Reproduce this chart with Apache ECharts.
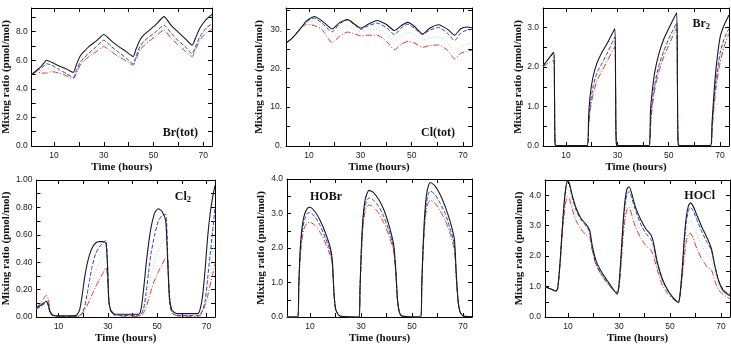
<!DOCTYPE html>
<html>
<head>
<meta charset="utf-8">
<script src="https://cdn.jsdelivr.net/npm/echarts@6/dist/echarts.min.js"></script>
<style>
  html, body { margin: 0; padding: 0; background: #fff; }
  #main { width: 731px; height: 346px; }
</style>
</head>
<body>
<div id="main"></div>
<script>
// ---- data ----
// four runs per panel: black solid, blue dashed, green dotted, red dash-dot
var xTicks = [10, 20, 30, 40, 50, 60, 70];
var xLabels = [10, 30, 50, 70];

// Br(tot)
var brTotTime  = [1, 3, 5, 7, 9, 12, 15, 17.7, 19, 20.5, 22, 24, 27, 30, 33, 36, 39, 41.8, 43, 44.5, 46, 48, 51, 54.2, 57, 60, 63, 65.5, 67, 68.5, 70, 71.5, 73.5];
var brTotBlack = [5.0, 5.3, 5.6, 6.0, 5.85, 5.6, 5.38, 5.15, 5.7, 6.3, 6.6, 6.95, 7.35, 7.8, 7.35, 6.95, 6.6, 6.25, 6.8, 7.4, 7.75, 8.05, 8.5, 9.05, 8.45, 7.95, 7.45, 7.05, 7.6, 8.2, 8.6, 8.9, 9.2];
var brTotBlue  = [5.0, 5.25, 5.45, 5.75, 5.65, 5.35, 5.05, 4.8, 5.3, 5.85, 6.15, 6.5, 6.95, 7.4, 6.95, 6.55, 6.15, 5.75, 6.3, 6.95, 7.3, 7.6, 8.0, 8.45, 7.9, 7.35, 6.9, 6.45, 7.0, 7.6, 8.0, 8.3, 8.55];
var brTotGreen = [5.0, 5.22, 5.25, 5.4, 5.4, 5.2, 4.98, 4.75, 5.2, 5.75, 6.05, 6.38, 6.78, 7.15, 6.78, 6.4, 6.05, 5.7, 6.2, 6.82, 7.15, 7.45, 7.85, 8.25, 7.7, 7.2, 6.75, 6.35, 6.9, 7.48, 7.85, 8.1, 8.35];
var brTotRed   = [5.0, 5.2, 5.1, 5.1, 5.2, 5.1, 4.9, 4.7, 5.1, 5.65, 5.95, 6.25, 6.6, 6.95, 6.6, 6.25, 5.95, 5.65, 6.1, 6.7, 7.0, 7.3, 7.7, 8.1, 7.55, 7.05, 6.6, 6.25, 6.8, 7.35, 7.7, 7.95, 8.15];

// Cl(tot)
var clTotTime  = [1, 3, 5, 7, 9, 12, 15, 19, 22, 25, 28, 30.2, 33, 36.5, 40, 43.3, 46, 48.5, 51, 54.3, 57, 60.5, 64, 66.7, 69, 71.5, 73.5];
var clTotBlack = [26.5, 27.5, 28.9, 30.5, 32.2, 33.3, 32.2, 30.1, 31.8, 32.5, 31.2, 30.3, 31.3, 32.3, 31.3, 29.7, 31.0, 31.8, 30.8, 28.8, 30.3, 31.2, 30.0, 28.5, 30.1, 30.6, 30.4];
var clTotBlue  = [26.5, 27.5, 28.9, 30.5, 32.0, 32.9, 31.6, 29.4, 31.5, 32.5, 31.0, 30.0, 30.9, 31.6, 30.5, 28.7, 30.4, 31.3, 30.3, 28.7, 29.8, 30.5, 29.0, 27.1, 29.0, 29.8, 30.0];
var clTotGreen = [26.5, 27.5, 28.9, 30.5, 31.7, 32.0, 30.8, 28.0, 30.0, 31.0, 30.0, 29.3, 29.8, 30.0, 28.8, 27.0, 28.5, 29.2, 28.6, 27.3, 27.8, 28.0, 26.6, 24.0, 25.6, 26.2, 26.4];
var clTotRed   = [26.5, 27.5, 28.9, 30.5, 31.3, 31.0, 30.0, 26.6, 28.3, 29.3, 28.8, 28.3, 28.5, 28.5, 27.0, 24.8, 26.2, 26.9, 26.5, 25.4, 25.8, 26.0, 24.6, 22.4, 23.8, 24.4, 24.6];

// Br2
var br2Time  = [1, 3, 5.2, 5.5, 5.8, 10, 18.2, 18.8, 19.5, 20.5, 22, 24, 26, 29, 29.3, 29.7, 35, 42.3, 42.9, 43.6, 44.5, 46, 48, 50, 53.1, 53.4, 53.8, 60, 66.3, 66.9, 67.6, 68.5, 70, 71.5, 73.5];
var br2Black = [2.02, 2.2, 2.38, 1.2, 0.02, 0.01, 0.01, 0.8, 1.35, 1.75, 2.1, 2.38, 2.6, 2.98, 1.5, 0.02, 0.01, 0.01, 0.9, 1.4, 1.85, 2.3, 2.7, 2.98, 3.38, 1.7, 0.02, 0.01, 0.01, 0.6, 1.3, 2.0, 2.75, 3.05, 3.32];
var br2Blue  = [2.05, 2.2, 2.36, 1.2, 0.02, 0.01, 0.01, 0.6, 1.1, 1.5, 1.85, 2.1, 2.35, 2.76, 1.4, 0.02, 0.01, 0.01, 0.6, 1.15, 1.55, 2.0, 2.4, 2.72, 3.12, 1.6, 0.02, 0.01, 0.01, 0.5, 1.1, 1.7, 2.35, 2.7, 2.98];
var br2Green = [2.02, 2.15, 2.27, 1.15, 0.02, 0.01, 0.01, 0.55, 1.02, 1.4, 1.75, 2.0, 2.25, 2.64, 1.35, 0.02, 0.01, 0.01, 0.55, 1.08, 1.48, 1.92, 2.32, 2.63, 3.06, 1.55, 0.02, 0.01, 0.01, 0.45, 1.02, 1.6, 2.22, 2.6, 2.92];
var br2Red   = [2.0, 2.1, 2.18, 1.1, 0.02, 0.01, 0.01, 0.5, 0.95, 1.3, 1.65, 1.9, 2.15, 2.52, 1.3, 0.02, 0.01, 0.01, 0.5, 1.0, 1.4, 1.85, 2.25, 2.55, 3.0, 1.5, 0.02, 0.01, 0.01, 0.4, 0.95, 1.5, 2.1, 2.5, 2.85];

// Cl2
var cl2Time  = [1, 3, 5.1, 5.8, 6.5, 7.5, 10, 17, 18.5, 19.5, 20.5, 21.5, 22.5, 23.5, 25, 26.5, 28, 29.2, 29.8, 30.4, 31.2, 33, 42.5, 43.5, 44.5, 45.5, 46.5, 47.5, 49, 50.5, 52, 53.5, 54.3, 55, 56, 58, 66.5, 67.5, 68.5, 69.5, 70.5, 71.5, 72.5, 73.5];
var cl2Black = [0.066, 0.09, 0.115, 0.09, 0.04, 0.015, 0.008, 0.01, 0.05, 0.15, 0.28, 0.38, 0.45, 0.5, 0.54, 0.55, 0.55, 0.54, 0.4, 0.12, 0.05, 0.02, 0.02, 0.06, 0.2, 0.38, 0.53, 0.65, 0.76, 0.79, 0.77, 0.7, 0.4, 0.15, 0.05, 0.025, 0.025, 0.06, 0.16, 0.35, 0.58, 0.75, 0.87, 0.96];
var cl2Blue  = [0.055, 0.08, 0.105, 0.08, 0.03, 0.01, 0.005, 0.005, 0.01, 0.03, 0.07, 0.16, 0.26, 0.36, 0.46, 0.51, 0.54, 0.56, 0.42, 0.12, 0.04, 0.015, 0.01, 0.02, 0.06, 0.17, 0.32, 0.46, 0.6, 0.7, 0.74, 0.75, 0.45, 0.12, 0.03, 0.01, 0.01, 0.02, 0.05, 0.12, 0.28, 0.45, 0.62, 0.8];
var cl2Green = [0.06, 0.095, 0.13, 0.1, 0.04, 0.012, 0.005, 0.005, 0.008, 0.025, 0.06, 0.11, 0.18, 0.25, 0.33, 0.39, 0.43, 0.46, 0.36, 0.12, 0.04, 0.012, 0.008, 0.015, 0.045, 0.11, 0.2, 0.3, 0.41, 0.49, 0.54, 0.58, 0.44, 0.13, 0.035, 0.01, 0.008, 0.015, 0.045, 0.1, 0.2, 0.32, 0.45, 0.58];
var cl2Red   = [0.066, 0.11, 0.16, 0.13, 0.05, 0.015, 0.005, 0.005, 0.005, 0.02, 0.05, 0.08, 0.12, 0.16, 0.22, 0.27, 0.32, 0.36, 0.3, 0.12, 0.04, 0.01, 0.005, 0.01, 0.03, 0.07, 0.13, 0.19, 0.27, 0.33, 0.38, 0.43, 0.42, 0.15, 0.04, 0.01, 0.005, 0.01, 0.04, 0.09, 0.15, 0.23, 0.31, 0.39];

// HOBr
var hobrTime  = [1, 5.2, 5.6, 6.0, 6.5, 7.2, 8, 9, 10, 12, 14, 16, 18, 18.8, 19.4, 20, 20.8, 22, 29.2, 29.6, 30.1, 30.7, 31.4, 32.2, 33.2, 35, 37, 39, 41, 42.8, 43.6, 44.3, 45, 46, 53.4, 53.8, 54.3, 54.9, 55.6, 56.4, 57.2, 59, 61, 63, 65, 66.6, 67.3, 68, 68.8, 70, 73.5];
var hobrBlack = [0, 0, 0.9, 1.7, 2.3, 2.75, 3.0, 3.15, 3.18, 3.05, 2.8, 2.45, 2.0, 1.6, 0.7, 0.25, 0.1, 0.02, 0, 0.8, 1.9, 2.8, 3.3, 3.55, 3.67, 3.6, 3.4, 3.1, 2.65, 2.1, 1.4, 0.5, 0.15, 0.03, 0, 0.9, 2.0, 2.9, 3.5, 3.8, 3.9, 3.8, 3.55, 3.2, 2.75, 2.25, 1.3, 0.5, 0.15, 0.03, 0.01];
var hobrBlue  = [0, 0, 0.85, 1.6, 2.2, 2.6, 2.85, 3.0, 3.03, 2.9, 2.65, 2.3, 1.9, 1.55, 0.7, 0.25, 0.1, 0.02, 0, 0.8, 1.85, 2.7, 3.15, 3.38, 3.45, 3.38, 3.2, 2.9, 2.5, 2.0, 1.35, 0.5, 0.15, 0.03, 0, 0.85, 1.9, 2.75, 3.3, 3.58, 3.65, 3.55, 3.3, 3.0, 2.55, 2.1, 1.25, 0.5, 0.15, 0.03, 0.01];
var hobrGreen = [0, 0, 0.82, 1.55, 2.1, 2.5, 2.74, 2.86, 2.89, 2.78, 2.55, 2.22, 1.84, 1.52, 0.7, 0.25, 0.1, 0.02, 0, 0.78, 1.8, 2.62, 3.06, 3.28, 3.35, 3.28, 3.1, 2.81, 2.42, 1.95, 1.32, 0.5, 0.15, 0.03, 0, 0.82, 1.85, 2.68, 3.2, 3.45, 3.52, 3.42, 3.19, 2.9, 2.48, 2.02, 1.22, 0.5, 0.15, 0.03, 0.01];
var hobrRed   = [0, 0, 0.8, 1.5, 2.0, 2.4, 2.62, 2.73, 2.75, 2.65, 2.45, 2.15, 1.78, 1.5, 0.7, 0.25, 0.1, 0.02, 0, 0.75, 1.75, 2.55, 2.98, 3.18, 3.25, 3.18, 3.0, 2.72, 2.35, 1.9, 1.3, 0.5, 0.15, 0.03, 0, 0.8, 1.8, 2.6, 3.1, 3.32, 3.38, 3.3, 3.08, 2.8, 2.4, 1.95, 1.2, 0.5, 0.15, 0.03, 0.01];

// HOCl
var hoclTime  = [1, 3, 5.3, 6, 7, 8, 9, 9.8, 10.5, 11.5, 13, 15, 17, 18.5, 19.5, 21, 23, 25, 27, 29.3, 30, 30.8, 31.6, 32.4, 33.2, 34, 35, 36.5, 38.5, 40.5, 42.5, 43.5, 45, 47, 49, 51, 53.3, 54, 54.8, 55.6, 56.4, 57.2, 58, 59, 60.5, 62.5, 64.5, 66.2, 67.5, 69, 71, 73.5];
var hoclBlack = [1.0, 0.93, 0.85, 0.95, 1.9, 3.2, 4.15, 4.47, 4.4, 4.05, 3.62, 3.25, 3.05, 2.85, 2.35, 1.85, 1.5, 1.25, 1.0, 0.75, 1.05, 2.0, 3.1, 3.85, 4.22, 4.28, 4.05, 3.6, 3.2, 2.9, 2.7, 2.45, 1.8, 1.25, 0.9, 0.65, 0.47, 0.8, 1.6, 2.6, 3.3, 3.65, 3.75, 3.65, 3.35, 2.95, 2.6, 2.25, 1.7, 1.2, 0.85, 0.7];
var hoclBlue  = [1.0, 0.93, 0.85, 0.95, 1.9, 3.2, 4.15, 4.45, 4.38, 4.0, 3.55, 3.2, 3.0, 2.8, 2.25, 1.75, 1.42, 1.18, 0.97, 0.78, 1.05, 1.95, 3.0, 3.7, 4.05, 4.12, 3.9, 3.5, 3.05, 2.75, 2.55, 2.35, 1.75, 1.22, 0.88, 0.65, 0.5, 0.8, 1.55, 2.5, 3.15, 3.5, 3.6, 3.5, 3.2, 2.8, 2.45, 2.2, 1.7, 1.2, 0.88, 0.75];
var hoclGreen = [1.0, 0.93, 0.85, 0.95, 1.88, 3.08, 3.93, 4.2, 4.14, 3.8, 3.38, 3.05, 2.85, 2.7, 2.22, 1.72, 1.41, 1.16, 0.96, 0.8, 1.02, 1.82, 2.8, 3.48, 3.8, 3.86, 3.62, 3.22, 2.82, 2.55, 2.38, 2.18, 1.65, 1.13, 0.83, 0.62, 0.5, 0.78, 1.42, 2.25, 2.82, 3.1, 3.18, 3.05, 2.72, 2.35, 2.05, 1.88, 1.45, 1.05, 0.8, 0.68];
var hoclRed   = [1.0, 0.93, 0.85, 0.95, 1.85, 2.95, 3.7, 3.95, 3.9, 3.6, 3.2, 2.9, 2.7, 2.62, 2.2, 1.7, 1.4, 1.15, 0.95, 0.82, 1.0, 1.7, 2.6, 3.25, 3.55, 3.6, 3.35, 2.95, 2.6, 2.35, 2.2, 2.0, 1.55, 1.05, 0.78, 0.6, 0.5, 0.75, 1.3, 2.0, 2.5, 2.72, 2.75, 2.6, 2.25, 1.9, 1.65, 1.55, 1.2, 0.9, 0.72, 0.6];

// y ticks / labels per panel
var brTotYTicks = [0, 1, 2, 3, 4, 5, 6, 7, 8, 9];
var brTotYLabels = [0, 2, 4, 6, 8];
var clTotYTicks = [0, 5, 10, 15, 20, 25, 30, 35];
var clTotYLabels = [0, 10, 20, 30];
var br2YTicks = [0, 0.5, 1, 1.5, 2, 2.5, 3, 3.5];
var br2YLabels = [0, 1, 2, 3];
var cl2YTicks = [0, 0.1, 0.2, 0.3, 0.4, 0.5, 0.6, 0.7, 0.8, 0.9, 1.0];
var cl2YLabels = [0, 0.2, 0.4, 0.6, 0.8, 1.0];
var hobrYTicks = [0, 0.5, 1, 1.5, 2, 2.5, 3, 3.5, 4];
var hobrYLabels = [0, 1, 2, 3, 4];
var hoclYTicks = [0, 0.5, 1, 1.5, 2, 2.5, 3, 3.5, 4, 4.5];
var hoclYLabels = [0, 1, 2, 3, 4];

// ---- layout ----
var serif = 'Liberation Serif';
var sans = 'Liberation Sans';

// title placement: either {right} or {left} in px
var panels = [
  { rect: [28, 8, 184, 138], yMax: 9.65, time: brTotTime, runs: [brTotBlack, brTotBlue, brTotGreen, brTotRed],
    yTicks: brTotYTicks, yLabels: brTotYLabels, fmt: function (v) { return v.toFixed(1); }, nameGap: 17,
    title: '{a|Br(tot)}', tPos: { right: 528, top: 121 } },
  { rect: [286, 8, 186, 138], yMax: 35.5, time: clTotTime, runs: [clTotBlack, clTotBlue, clTotGreen, clTotRed],
    yTicks: clTotYTicks, yLabels: clTotYLabels, fmt: function (v) { return v + '.'; }, nameGap: 21,
    title: '{a|Cl(tot)}', tPos: { right: 271, top: 121 } },
  { rect: [543, 8, 186, 138], yMax: 3.5, time: br2Time, runs: [br2Black, br2Blue, br2Green, br2Red],
    yTicks: br2YTicks, yLabels: br2YLabels, fmt: function (v) { return v.toFixed(1); }, nameGap: 18,
    title: '{a|Br}{b|2}', tPos: { right: 16, top: 12 } },
  { rect: [29, 180, 186, 137], yMax: 1.0, time: cl2Time, runs: [cl2Black, cl2Blue, cl2Green, cl2Red],
    yTicks: cl2YTicks, yLabels: cl2YLabels, fmt: function (v) { return v.toFixed(2); }, nameGap: 22,
    title: '{a|Cl}{b|2}', tPos: { right: 535, top: 185 } },
  { rect: [287, 179, 185, 138], yMax: 4.0, time: hobrTime, runs: [hobrBlack, hobrBlue, hobrGreen, hobrRed],
    yTicks: hobrYTicks, yLabels: hobrYLabels, fmt: function (v) { return v.toFixed(1); }, nameGap: 20,
    title: '{a|HOBr}', tPos: { left: 305, top: 185 } },
  { rect: [545, 180, 185, 137], yMax: 4.5, time: hoclTime, runs: [hoclBlack, hoclBlue, hoclGreen, hoclRed],
    yTicks: hoclYTicks, yLabels: hoclYLabels, fmt: function (v) { return v.toFixed(1); }, nameGap: 20,
    title: '{a|HOCl}', tPos: { right: 11, top: 184 } }
];

var runStyles = [
  { color: '#1a1a1a', type: 'solid', width: 1.1, z: 5 },
  { color: '#2b3fd6', type: [4, 2], width: 1, z: 4 },
  { color: '#a6e3a6', type: [1, 2], width: 1, z: 2 },
  { color: '#e03030', type: [6, 2, 1, 2], width: 1, z: 3 }
];

var grids = [], xAxes = [], yAxes = [], series = [], titles = [];
var axisLine = { show: true, onZero: false, lineStyle: { color: '#000', width: 1 } };
var nameStyle = { fontFamily: serif, fontWeight: 'bold', fontSize: 11, color: '#111' };

panels.forEach(function (p, i) {
  grids.push({ left: p.rect[0], top: p.rect[1], width: p.rect[2], height: p.rect[3], containLabel: false });

  // bottom + top x axes
  xAxes.push({
    gridIndex: i, type: 'value', min: 1, max: 73.5, position: 'bottom',
    axisLine: axisLine,
    axisTick: { inside: true, length: 4, customValues: xTicks, lineStyle: { color: '#000' } },
    axisLabel: { customValues: xLabels, fontSize: 8.5, margin: 5, color: '#222', fontFamily: sans },
    splitLine: { show: false },
    name: 'Time (hours)', nameLocation: 'middle', nameGap: 16,
    nameTextStyle: nameStyle
  });
  xAxes.push({
    gridIndex: i, type: 'value', min: 1, max: 73.5, position: 'top',
    axisLine: axisLine,
    axisTick: { inside: true, length: 4, customValues: xTicks, lineStyle: { color: '#000' } },
    axisLabel: { show: false }, splitLine: { show: false }
  });

  // left + right y axes
  yAxes.push({
    gridIndex: i, type: 'value', min: 0, max: p.yMax, position: 'left',
    axisLine: axisLine,
    axisTick: { inside: true, length: 4, customValues: p.yTicks, lineStyle: { color: '#000' } },
    axisLabel: { customValues: p.yLabels, formatter: p.fmt, fontSize: 8.5, margin: 4, color: '#222', fontFamily: sans },
    splitLine: { show: false },
    name: 'Mixing ratio (pmol/mol)', nameLocation: 'middle', nameGap: p.nameGap,
    nameTextStyle: nameStyle
  });
  yAxes.push({
    gridIndex: i, type: 'value', min: 0, max: p.yMax, position: 'right',
    axisLine: axisLine,
    axisTick: { inside: true, length: 4, customValues: p.yTicks, lineStyle: { color: '#000' } },
    axisLabel: { show: false }, splitLine: { show: false }
  });

  p.runs.forEach(function (vals, k) {
    var st = runStyles[k];
    series.push({
      type: 'line', xAxisIndex: i * 2, yAxisIndex: i * 2,
      data: p.time.map(function (t, j) { return [t, vals[j]]; }),
      showSymbol: false, smooth: 0.2, clip: true, z: st.z,
      lineStyle: { color: st.color, type: st.type, width: st.width }
    });
  });

  var t = {
    text: p.title, top: p.tPos.top,
    textStyle: {
      rich: {
        a: { fontFamily: serif, fontWeight: 'bold', fontSize: 12, color: '#111', lineHeight: 14 },
        b: { fontFamily: serif, fontWeight: 'bold', fontSize: 8.5, color: '#111', lineHeight: 14, padding: [6, 0, 0, 0] }
      }
    }
  };
  if (p.tPos.right != null) t.right = p.tPos.right; else t.left = p.tPos.left;
  titles.push(t);
});

var chart = echarts.init(document.getElementById('main'), null, { renderer: 'canvas' });
chart.setOption({
  animation: false,
  backgroundColor: '#fff',
  title: titles,
  grid: grids,
  xAxis: xAxes,
  yAxis: yAxes,
  series: series
});
</script>
</body>
</html>
